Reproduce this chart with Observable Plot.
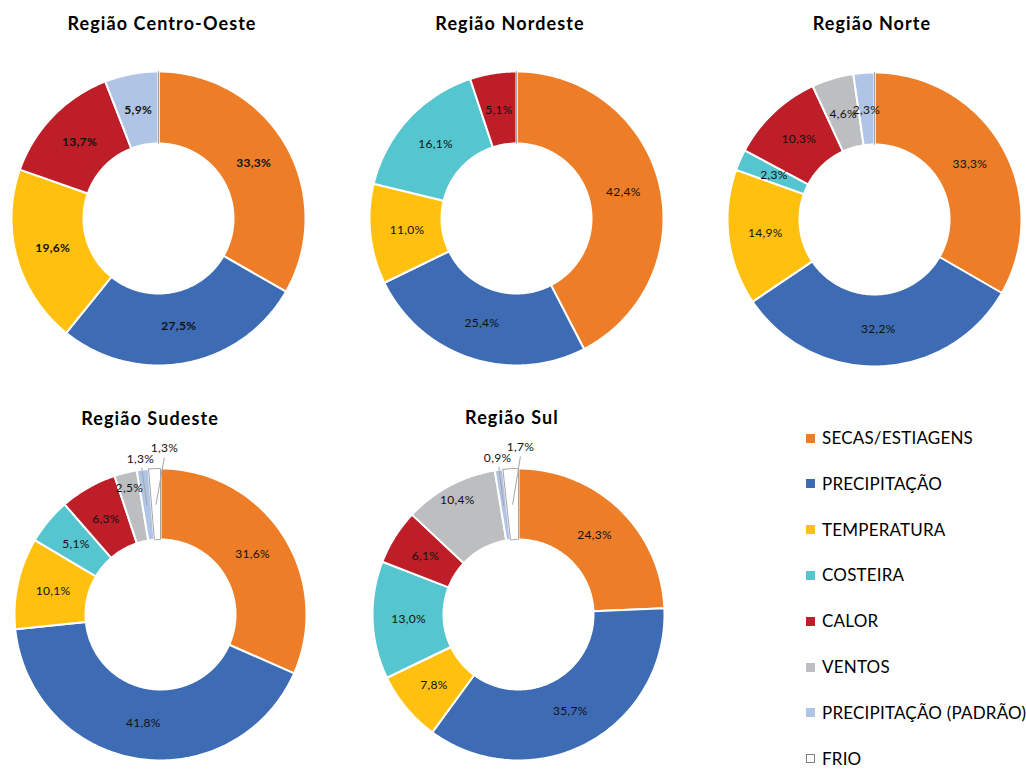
<!DOCTYPE html>
<html><head><meta charset="utf-8">
<script src="https://cdn.jsdelivr.net/npm/d3@7"></script>
<script src="https://cdn.jsdelivr.net/npm/@observablehq/plot@0.6"></script>
<style>
body{margin:0;background:#fff;font-family:Lato,"DejaVu Sans",sans-serif;}
#root{position:relative;width:1026px;height:769px;overflow:hidden;background:#fff;}
.title{position:absolute;font-weight:bold;font-size:18px;line-height:18px;letter-spacing:1.1px;transform:translate(-50%,-50%);white-space:nowrap;color:#000;}
.chart{position:absolute;}
.lg{position:absolute;left:806px;font-size:17px;line-height:14px;letter-spacing:0.2px;color:#000;white-space:nowrap;}
.lg span.sw{position:absolute;left:0;top:-4.5px;width:9px;height:9px;box-sizing:border-box;}
.lg span.tx{position:absolute;left:16px;top:-7px;}
</style></head><body><div id="root"></div>
<script>
// ---- data ----
const categories = ["SECAS/ESTIAGENS","PRECIPITAÇÃO","TEMPERATURA","COSTEIRA","CALOR","VENTOS","PRECIPITAÇÃO (PADRÃO)","FRIO"];
const colors = ["#ED7D27","#3E6CB4","#FFC010","#55C5CF","#BE1E27","#BDBEC0","#B0C4E6","#FFFFFF"];
const regions = ["Região Centro-Oeste","Região Nordeste","Região Norte","Região Sudeste","Região Sul"];
const centroOeste = [33.3,27.5,19.6,0,13.7,0,5.9,0];
const nordeste    = [42.4,25.4,11.0,16.1,5.1,0,0,0];
const norte       = [33.3,32.2,14.9,2.3,10.3,4.6,2.3,0];
const sudeste     = [31.6,41.8,10.1,5.1,6.3,2.5,1.3,1.3];
const sul         = [24.3,35.7,7.8,13.0,6.1,10.4,0.9,1.7];
const series = [centroOeste, nordeste, norte, sudeste, sul];

// ---- layout (positions/styles only) ----
const layout = [
  {cx:158, cy:218, r:147, tx:162, ty:23, bold:true, labels:{}},
  {cx:516, cy:218, r:147, tx:510, ty:23, labels:{}},
  {cx:874, cy:219, r:147, tx:872, ty:23, labels:{}},
  {cx:160, cy:614, r:146, tx:150, ty:418, labels:{5:{r:130}, 6:{a:-7.3, r:157, leader:true}, 7:{a:1.4, r:166, leader:true}}},
  {cx:518, cy:614, r:146, tx:512, ty:417, labels:{5:{r:130}, 6:{a:-7.6, r:158, leader:true}, 7:{a:0.7, r:167, leader:true}}}
];
const R_IN = 75, R_LAB = 110, H = 185;
const fmt = v => v.toFixed(1).replace(".", ",") + "%";
const root = document.getElementById("root");

series.forEach((values, ci) => {
  const L = layout[ci];
  const arcs = d3.pie().sort(null).value(d => d)(values);
  const pts = [], labels = [], leaders = [];
  arcs.forEach((a, i) => {
    if (values[i] <= 0 && i !== 7) return;
    const key = regions[ci] + i;
    const n = Math.max(2, Math.ceil((a.endAngle - a.startAngle) / (Math.PI / 180)));
    const poly = [];
    for (let k = 0; k <= n; k++) {
      const t = a.startAngle + (a.endAngle - a.startAngle) * k / n;
      poly.push({x: L.r * Math.sin(t), y: L.r * Math.cos(t)});
    }
    for (let k = n; k >= 0; k--) {
      const t = a.startAngle + (a.endAngle - a.startAngle) * k / n;
      poly.push({x: R_IN * Math.sin(t), y: R_IN * Math.cos(t)});
    }
    poly.push(poly[0]);
    poly.forEach(p => pts.push({...p, key, cat: categories[i], frio: i === 7}));
    if (values[i] > 0) {
      const mid = (a.startAngle + a.endAngle) / 2;
      const o = L.labels[i] || {};
      const ang = o.a !== undefined ? o.a * Math.PI / 180 : mid;
      const rr = o.r || R_LAB;
      labels.push({x: rr * Math.sin(ang), y: rr * Math.cos(ang), text: fmt(values[i])});
      if (o.leader) {
        leaders.push({x1: (rr - 9) * Math.sin(ang), y1: (rr - 9) * Math.cos(ang),
                      x2: R_LAB * Math.sin(mid), y2: R_LAB * Math.cos(mid)});
      }
    }
  });
  const plot = Plot.plot({
    width: 2 * H, height: 2 * H, margin: 0,
    x: {domain: [-H, H], axis: null},
    y: {domain: [-H, H], axis: null},
    color: {domain: categories, range: colors},
    style: {background: "transparent", overflow: "visible", fontFamily: "Lato, 'DejaVu Sans', sans-serif", letterSpacing: "0.3px"},
    marks: [
      Plot.line(pts.filter(d => !d.frio), {x: "x", y: "y", z: "key", fill: "cat", stroke: "white", strokeWidth: 2, curve: "linear"}),
      Plot.line(pts.filter(d => d.frio), {x: "x", y: "y", z: "key", fill: "cat", stroke: "#A5A5A5", strokeWidth: 1, curve: "linear"}),
      Plot.link(leaders, {x1: "x1", y1: "y1", x2: "x2", y2: "y2", stroke: "#A5A5A5", strokeWidth: 1}),
      Plot.text(labels, {x: "x", y: "y", text: "text", fontSize: 12, fill: "#111", fontWeight: L.bold ? "bold" : "normal"})
    ]
  });
  const div = document.createElement("div");
  div.className = "chart";
  div.style.left = (L.cx - H) + "px";
  div.style.top = (L.cy - H) + "px";
  div.style.width = (2 * H) + "px";
  div.appendChild(plot);
  root.appendChild(div);
  const t = document.createElement("div");
  t.className = "title";
  t.style.left = L.tx + "px";
  t.style.top = L.ty + "px";
  t.textContent = regions[ci];
  root.appendChild(t);
});

// legend
categories.forEach((c, i) => {
  const row = document.createElement("div");
  row.className = "lg";
  row.style.top = (438 + 45.8 * i) + "px";
  const sw = document.createElement("span");
  sw.className = "sw";
  sw.style.background = colors[i];
  if (i === 7) sw.style.border = "1px solid #7F7F7F";
  const tx = document.createElement("span");
  tx.className = "tx";
  tx.textContent = c;
  row.appendChild(sw); row.appendChild(tx);
  root.appendChild(row);
});
</script></body></html>
